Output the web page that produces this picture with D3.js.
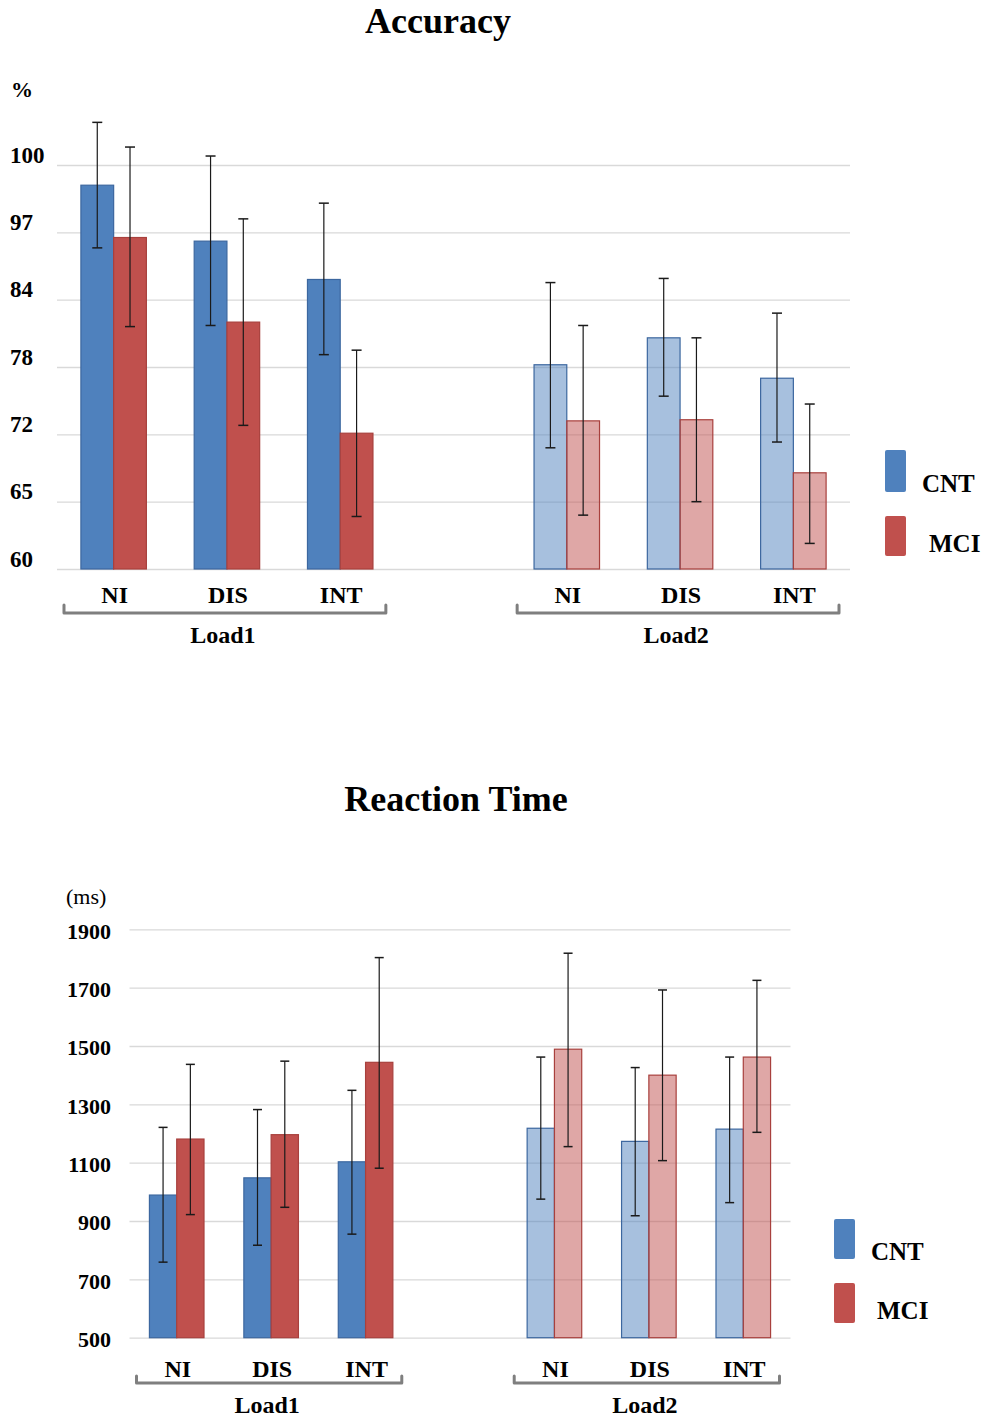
<!DOCTYPE html>
<html>
<head>
<meta charset="utf-8">
<script src="https://cdn.jsdelivr.net/npm/d3@7"></script>
<style>
  html, body { margin: 0; padding: 0; background: #fff; }
  svg { display: block; }
  text { font-family: "Liberation Serif", "Times New Roman", serif; fill: #000; }
</style>
</head>
<body>
<svg id="chart" width="988" height="1419"></svg>
<script>
// ---------- DATA ----------
const conditions = ["NI", "DIS", "INT"];
const loads = ["Load1", "Load2"];
const groups = ["CNT", "MCI"];

// Accuracy (%) — axis tick labels as printed
const accTicks = [60, 65, 72, 78, 84, 97, 100];
// order: Load1 NI, DIS, INT, Load2 NI, DIS, INT
const accCNT   = [99.1, 95.3, 87.9, 78.2, 80.6, 77.0];
const accCNTlo = [94.0, 81.7, 79.1, 70.6, 75.4, 71.2];
const accCNThi = [101.9, 100.4, 98.3, 87.3, 88.1, 82.8];
const accMCI   = [96.0, 82.0, 72.1, 73.2, 73.3, 68.0];
const accMCIlo = [81.6, 72.8, 63.9, 64.0, 65.0, 61.9];
const accMCIhi = [100.8, 97.6, 79.5, 81.7, 80.6, 74.7];

// Reaction time (ms)
const rtTicks = [500, 700, 900, 1100, 1300, 1500, 1700, 1900];
const rtCNT   = [989, 1048, 1103, 1218, 1173, 1215];
const rtCNTlo = [759, 817, 855, 975, 918, 963];
const rtCNThi = [1221, 1282, 1348, 1462, 1426, 1462];
const rtMCI   = [1181, 1196, 1444, 1489, 1400, 1462];
const rtMCIlo = [922, 947, 1081, 1155, 1107, 1204];
const rtMCIhi = [1437, 1448, 1803, 1818, 1692, 1725];

// ---------- STYLE ----------
const colors = { CNT: "#4F81BD", MCI: "#C0504D" };
const strokes = { CNT: "#3C679F", MCI: "#A8403D" };
const load2Opacity = 0.5;

const svg = d3.select("#chart");

// slot keys: 3 conditions, a gap, 3 conditions
const slots = [];
loads.forEach((l, li) => {
  conditions.forEach(c => slots.push(l + "|" + c));
  if (li < loads.length - 1) slots.push("gap");
});
function rows(cnt, cntLo, cntHi, mci, mciLo, mciHi) {
  const out = [];
  let k = 0;
  loads.forEach((l, li) => conditions.forEach(c => {
    out.push({ slot: l + "|" + c, load: l, li, cond: c,
      vals: [
        { g: "CNT", v: cnt[k], lo: cntLo[k], hi: cntHi[k] },
        { g: "MCI", v: mci[k], lo: mciLo[k], hi: mciHi[k] }
      ] });
    k++;
  }));
  return out;
}

function drawChart(o) {
  const g = svg.append("g");
  const x = d3.scaleBand().domain(slots).range([o.left, o.right]).padding(0);
  const bw = x.bandwidth() * 0.289;
  const x1 = d3.scaleBand().domain(groups).range([-bw, bw]).padding(0);
  const y = o.y;

  // title
  g.append("text").attr("x", o.titleX).attr("y", o.titleY)
    .attr("text-anchor", "middle").attr("font-weight", "bold")
    .attr("font-size", 36).text(o.title);

  // unit
  g.append("text").attr("x", o.unitX).attr("y", o.unitY)
    .attr("font-weight", o.unitBold ? "bold" : "normal")
    .attr("font-size", 22).text(o.unit);

  // gridlines + tick labels
  const ax = g.append("g").attr("transform", `translate(${o.left},0)`)
    .call(d3.axisLeft(y).tickValues(o.ticks).tickSize(-(o.right - o.left)).tickPadding(0)
      .tickFormat(d3.format("d")));
  ax.select(".domain").remove();
  ax.selectAll(".tick line").attr("stroke", "#D9D9D9").attr("stroke-width", 1.3);
  ax.selectAll(".tick text")
    .attr("font-family", '"Liberation Serif", "Times New Roman", serif')
    .attr("font-weight", "bold").attr("font-size", o.tickSize).attr("fill", "#000")
    .attr("text-anchor", o.tickAnchor).attr("x", o.tickX - o.left).attr("dy", o.tickDy);

  const data = rows(...o.series);
  const cg = g.selectAll(".cat").data(data).join("g")
    .attr("transform", d => `translate(${x(d.slot) + x.bandwidth() / 2},0)`);

  cg.selectAll("rect").data(d => d.vals.map(v => ({ ...v, li: d.li }))).join("rect")
    .attr("x", d => x1(d.g)).attr("width", x1.bandwidth())
    .attr("y", d => y(d.v)).attr("height", d => y(o.ticks[0]) - y(d.v))
    .attr("fill", d => colors[d.g]).attr("fill-opacity", d => d.li === 0 ? 1 : load2Opacity)
    .attr("stroke", d => strokes[d.g]).attr("stroke-width", 1.2);

  const eb = cg.selectAll(".err").data(d => d.vals).join("g").attr("class", "err")
    .attr("transform", d => `translate(${x1(d.g) + x1.bandwidth() / 2},0)`);
  eb.append("line").attr("y1", d => y(d.lo)).attr("y2", d => y(d.hi))
    .attr("stroke", "#1a1a1a").attr("stroke-width", 1.2);
  [d => y(d.lo), d => y(d.hi)].forEach(fy => {
    eb.append("line").attr("x1", -o.cap / 2).attr("x2", o.cap / 2)
      .attr("y1", fy).attr("y2", fy).attr("stroke", "#1a1a1a").attr("stroke-width", 1.5);
  });

  // category labels
  cg.append("text").attr("x", 1).attr("y", o.catY).attr("text-anchor", "middle")
    .attr("font-weight", "bold").attr("font-size", 24).text(d => d.cond);

  // load brackets and labels
  loads.forEach(l => {
    const x0 = x(l + "|" + conditions[0]) + 7;
    const xe = x(l + "|" + conditions[conditions.length - 1]) + x.bandwidth() - 11;
    g.append("path")
      .attr("d", `M${x0},${o.brTop}L${x0},${o.brBot}L${xe},${o.brBot}L${xe},${o.brTop}`)
      .attr("fill", "none").attr("stroke", "#7F7F7F").attr("stroke-width", 3)
      .attr("stroke-linejoin", "round").attr("stroke-linecap", "round");
    const mid = x(l + "|" + conditions[1]) + x.bandwidth() / 2 - 4;
    g.append("text").attr("x", mid).attr("y", o.loadY).attr("text-anchor", "middle")
      .attr("font-weight", "bold").attr("font-size", 24).text(l);
  });

  // legend
  groups.forEach((gr, i) => {
    const L = o.legend[i];
    g.append("rect").attr("x", L.rx).attr("y", L.ry).attr("width", 21).attr("height", L.rh)
      .attr("rx", 2).attr("fill", colors[gr]);
    g.append("text").attr("x", L.tx).attr("y", L.ty).attr("font-weight", "bold")
      .attr("font-size", 25).text(gr);
  });
}

// Accuracy: piecewise axis with evenly spaced printed ticks
const accY = d3.scaleLinear().domain(accTicks)
  .range(accTicks.map((d, i) => 569 - i * (569 - 165) / (accTicks.length - 1)));
drawChart({
  title: "Accuracy", titleX: 438, titleY: 33,
  unit: "%", unitX: 11, unitY: 97, unitBold: true,
  left: 57, right: 850, y: accY, ticks: accTicks,
  tickSize: 23, tickAnchor: "start", tickX: 10, tickDy: "-0.12em",
  series: [accCNT, accCNTlo, accCNThi, accMCI, accMCIlo, accMCIhi],
  cap: 10, catY: 603, brTop: 605, brBot: 613, loadY: 643,
  legend: [
    { rx: 885, ry: 450, rh: 42, tx: 922, ty: 492 },
    { rx: 885, ry: 516, rh: 40, tx: 929, ty: 552 }
  ]
});

// Reaction time
const rtY = d3.scaleLinear().domain([500, 1900]).range([1337.7, 929.3]);
drawChart({
  title: "Reaction Time", titleX: 456, titleY: 811,
  unit: "(ms)", unitX: 66, unitY: 904, unitBold: false,
  left: 129.5, right: 790.5, y: rtY, ticks: rtTicks,
  tickSize: 22, tickAnchor: "end", tickX: 111, tickDy: "0.4em",
  series: [rtCNT, rtCNTlo, rtCNThi, rtMCI, rtMCIlo, rtMCIhi],
  cap: 9, catY: 1377, brTop: 1376, brBot: 1383, loadY: 1413,
  legend: [
    { rx: 834, ry: 1219, rh: 40, tx: 871, ty: 1260 },
    { rx: 834, ry: 1283, rh: 40, tx: 877, ty: 1319 }
  ]
});
</script>
</body>
</html>
